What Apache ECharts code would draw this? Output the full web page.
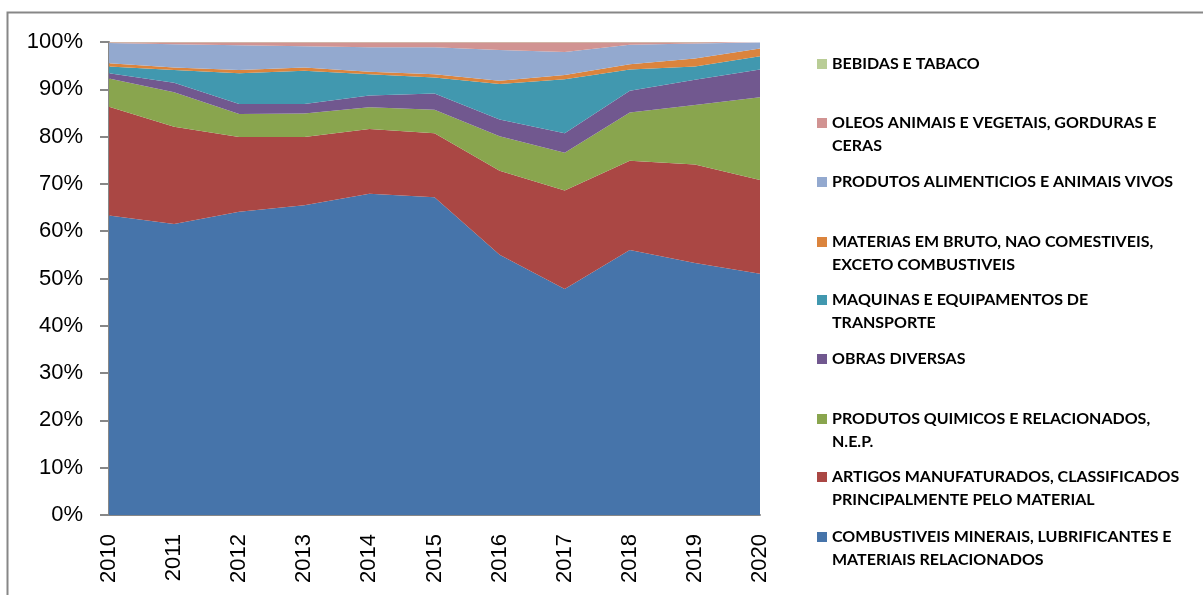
<!DOCTYPE html>
<html>
<head>
<meta charset="utf-8">
<script src="https://cdn.jsdelivr.net/npm/echarts@6/dist/echarts.min.js"></script>
<style>
  html, body { margin: 0; padding: 0; background: #fff; }
  #chart { width: 1203px; height: 595px; }
</style>
</head>
<body>
<div id="chart"></div>
<script>
  var years = ['2010', '2011', '2012', '2013', '2014', '2015', '2016', '2017', '2018', '2019', '2020']
  var yTicks = [0, 10, 20, 30, 40, 50, 60, 70, 80, 90, 100]

  // participacao (%) de cada grupo, de baixo para cima no empilhamento
  var combustiveis = [63.3, 61.5, 64.1, 65.5, 67.9, 67.2, 55.0, 47.8, 56.0, 53.3, 51.0]
  var artigos = [23.0, 20.6, 15.8, 14.4, 13.7, 13.5, 17.8, 20.8, 18.9, 20.8, 19.8]
  var quimicos = [6.0, 7.3, 4.9, 5.0, 4.6, 5.0, 7.3, 8.0, 10.2, 12.6, 17.5]
  var obras = [1.1, 2.0, 2.1, 2.0, 2.5, 3.4, 3.5, 4.1, 4.6, 5.3, 5.9]
  var maquinas = [1.4, 2.7, 6.5, 7.0, 4.5, 3.4, 7.5, 11.4, 4.5, 2.8, 2.8]
  var materias = [0.7, 0.5, 0.7, 0.7, 0.5, 0.7, 0.7, 0.9, 1.1, 1.7, 1.6]
  var alimenticios = [4.3, 4.9, 5.2, 4.5, 5.2, 5.7, 6.5, 4.9, 4.1, 3.2, 1.3]
  var oleos = [0.15, 0.45, 0.65, 0.85, 1.05, 1.05, 1.65, 2.05, 0.55, 0.25, 0.1]
  var bebidas = [0.05, 0.05, 0.05, 0.05, 0.05, 0.05, 0.05, 0.05, 0.05, 0.05, 0.05]

  var names = [
    'COMBUSTIVEIS MINERAIS, LUBRIFICANTES E MATERIAIS RELACIONADOS',
    'ARTIGOS MANUFATURADOS, CLASSIFICADOS PRINCIPALMENTE PELO MATERIAL',
    'PRODUTOS QUIMICOS E RELACIONADOS, N.E.P.',
    'OBRAS DIVERSAS',
    'MAQUINAS E EQUIPAMENTOS DE TRANSPORTE',
    'MATERIAS EM BRUTO, NAO COMESTIVEIS, EXCETO COMBUSTIVEIS',
    'PRODUTOS ALIMENTICIOS E ANIMAIS VIVOS',
    'OLEOS ANIMAIS E VEGETAIS, GORDURAS E CERAS',
    'BEBIDAS E TABACO'
  ]
  var legendLabels = [
    'COMBUSTIVEIS MINERAIS, LUBRIFICANTES E\nMATERIAIS RELACIONADOS',
    'ARTIGOS MANUFATURADOS, CLASSIFICADOS\nPRINCIPALMENTE PELO MATERIAL',
    'PRODUTOS QUIMICOS E RELACIONADOS,\nN.E.P.',
    'OBRAS DIVERSAS',
    'MAQUINAS E EQUIPAMENTOS DE\nTRANSPORTE',
    'MATERIAS EM BRUTO, NAO COMESTIVEIS,\nEXCETO COMBUSTIVEIS',
    'PRODUTOS ALIMENTICIOS E ANIMAIS VIVOS',
    'OLEOS ANIMAIS E VEGETAIS, GORDURAS E\nCERAS',
    'BEBIDAS E TABACO'
  ]
  var values = [combustiveis, artigos, quimicos, obras, maquinas, materias, alimenticios, oleos, bebidas]
  var colors = ['#4674AA', '#AA4744', '#89A54E', '#71588F', '#4198AF', '#DB843D', '#93A9CF', '#D19392', '#B9CD96']

  var chart = echarts.init(document.getElementById('chart'))

  // cada item da legenda posicionado a parte (legenda do Excel tem espacamento fixo)
  // itens de duas linhas levam uma linha vazia antes, para o icone ficar na 1a linha
  var legendCenters = [537, 477, 419, 359, 300, 242, 182, 123, 64]
  var legends = names.map(function (name, i) {
    var twoLines = legendLabels[i].indexOf('\n') >= 0
    return {
      data: [name],
      orient: 'vertical',
      left: 817,
      top: legendCenters[i] - (twoLines ? 34.5 : 11.5),
      padding: 0,
      itemWidth: 10,
      itemHeight: 10,
      itemGap: 0,
      selectedMode: false,
      icon: 'rect',
      formatter: function () { return twoLines ? ' \n' + legendLabels[i] : legendLabels[i] },
      textStyle: {
        color: '#000',
        fontFamily: 'Lato',
        fontWeight: 'bold',
        fontSize: 16,
        lineHeight: 23
      }
    }
  })

  var option = {
    animation: false,
    color: colors,
    graphic: [{
      type: 'rect',
      shape: { x: 7.5, y: 12.5, width: 1300, height: 700 },
      style: { fill: 'none', stroke: '#878787', lineWidth: 2 },
      silent: true
    }],
    legend: legends,
    grid: {
      left: 109,
      right: 443,
      top: 42,
      bottom: 80
    },
    xAxis: {
      type: 'category',
      boundaryGap: false,
      data: years,
      axisLine: { lineStyle: { color: '#878787', width: 2 } },
      axisTick: { show: false },
      axisLabel: {
        rotate: 90,
        margin: 19,
        color: '#000',
        fontFamily: 'Liberation Sans',
        fontSize: 22
      }
    },
    yAxis: {
      type: 'value',
      min: 0,
      max: 100,
      interval: 10,
      axisLine: { show: true, lineStyle: { color: '#878787', width: 2 } },
      axisTick: { show: true, length: 9, lineStyle: { color: '#878787', width: 2 } },
      splitLine: { show: false },
      axisLabel: {
        margin: 26,
        color: '#000',
        fontFamily: 'Liberation Sans',
        fontSize: 22,
        formatter: function (v) { return yTicks.indexOf(v) >= 0 ? v + '%' : '' }
      }
    },
    series: values.map(function (arr, i) {
      return {
        name: names[i],
        type: 'line',
        stack: 'total',
        data: arr,
        symbol: 'none',
        lineStyle: { width: 0 },
        areaStyle: { color: colors[i], opacity: 1 },
        itemStyle: { color: colors[i] },
        z: 2
      }
    })
  }

  chart.setOption(option)
  window.addEventListener('resize', () => {
    chart.resize()
  })
</script>
</body>
</html>
